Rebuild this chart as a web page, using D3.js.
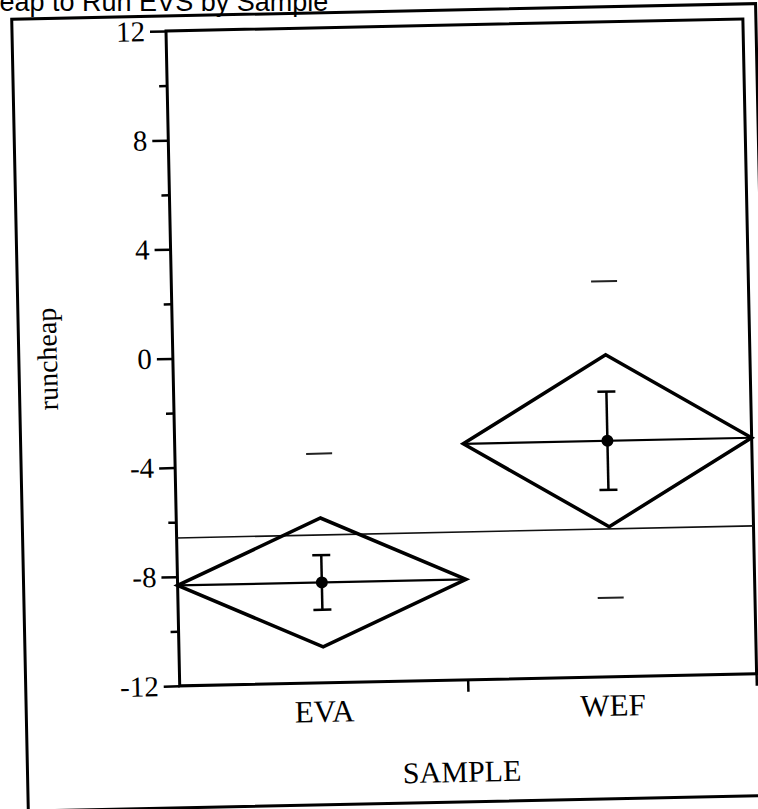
<!DOCTYPE html>
<html>
<head>
<meta charset="utf-8">
<script src="https://cdn.jsdelivr.net/npm/d3@7"></script>
<style>
body { margin: 0; background: #fff; }
svg { display: block; }
.tick text { font-family: "Liberation Serif", "Times New Roman", serif; }
</style>
</head>
<body>
<svg id="main" width="758" height="809"></svg>
<script>
// data
var categories = ["EVA", "WEF"];
var means = [-8.32, -3.35];
var ciHalf = [2.36, 3.15];
var seHalf = [1.0, 1.8];
var pointCats = ["EVA", "WEF", "WEF"];
var pointVals = [-3.6, 2.5, -9.1];
var grandMean = -6.58;
var majorTicks = [-12, -8, -4, 0, 4, 8, 12];
var minorTicks = [-10, -6, -2, 2, 6, 10];

var svg = d3.select("#main");
svg.append("rect").attr("width", 758).attr("height", 809).attr("fill", "#fff");

// title, cut off by the top of the scan
svg.append("text").attr("x", -35).attr("y", 11)
	.attr("font-family", "Liberation Sans, Arial, sans-serif").attr("font-size", 27)
	.text("Cheap to Run EVS by Sample");

// the whole scan is tilted a little
var page = svg.append("g").attr("transform", "rotate(-1.2 166 31)");
page.append("rect").attr("x", 12).attr("y", 16).attr("width", 744).attr("height", 792)
	.attr("fill", "none").attr("stroke", "#000").attr("stroke-width", 3);

var W = 577, H = 655;
var g = page.append("g").attr("transform", "translate(166,31)");
var x = d3.scaleBand().domain(categories).range([0, W]).paddingInner(0).paddingOuter(0);
var y = d3.scaleLinear().domain([-12, 12]).range([H, 0]);
var bw = x.bandwidth();

// axes
var ya = g.append("g").call(d3.axisLeft(y).tickValues(majorTicks).tickSize(16).tickPadding(5)
	.tickFormat(function(d) { return String(d); }));
ya.select(".domain").remove();
ya.selectAll(".tick line").attr("stroke-width", 2.5);
ya.selectAll(".tick text").attr("font-size", 29).attr("fill", "#000");
var ym = g.append("g").call(d3.axisLeft(y).tickValues(minorTicks).tickSize(8).tickFormat(""));
ym.select(".domain").remove();
ym.selectAll(".tick line").attr("stroke-width", 2.5);

var xa = g.append("g").attr("transform", "translate(0," + H + ")")
	.call(d3.axisBottom(x).tickSize(0).tickPadding(39));
xa.select(".domain").remove();
xa.selectAll(".tick text").attr("font-size", 31).attr("fill", "#000").attr("dy", 0);
// boundary ticks between groups
g.selectAll(".bt").data(categories).enter().append("line")
	.attr("x1", function(d) { return x(d) + bw; }).attr("x2", function(d) { return x(d) + bw; })
	.attr("y1", H).attr("y2", H + 12).attr("stroke", "#000").attr("stroke-width", 2.5);

g.append("rect").attr("width", W).attr("height", H).attr("fill", "none")
	.attr("stroke", "#000").attr("stroke-width", 3);

// axis titles
g.append("text").attr("transform", "translate(-116," + (H / 2 - 2) + ") rotate(-90)")
	.attr("text-anchor", "middle").attr("font-family", "Liberation Serif, serif").attr("font-size", 28)
	.text("runcheap");
g.append("text").attr("x", W / 2 - 8).attr("y", H + 102).attr("text-anchor", "middle")
	.attr("font-family", "Liberation Serif, serif").attr("font-size", 30).text("SAMPLE");

// grand mean line
g.append("line").attr("x1", 0).attr("x2", W).attr("y1", y(grandMean)).attr("y2", y(grandMean))
	.attr("stroke", "#111").attr("stroke-width", 1.6);

// means diamonds
categories.forEach(function(c, i) {
	var x0 = x(c), x1 = x(c) + bw, xc = x(c) + bw / 2;
	g.append("polygon")
		.attr("points", [[x0, y(means[i])], [xc, y(means[i] + ciHalf[i])], [x1, y(means[i])], [xc, y(means[i] - ciHalf[i])]].join(" "))
		.attr("fill", "none").attr("stroke", "#000").attr("stroke-width", 3.5).attr("stroke-linejoin", "miter");
	g.append("line").attr("x1", x0).attr("x2", x1).attr("y1", y(means[i])).attr("y2", y(means[i]))
		.attr("stroke", "#000").attr("stroke-width", 2.2);
	// std error bars
	g.append("line").attr("x1", xc).attr("x2", xc).attr("y1", y(means[i] + seHalf[i])).attr("y2", y(means[i] - seHalf[i]))
		.attr("stroke", "#000").attr("stroke-width", 2.5);
	[seHalf[i], -seHalf[i]].forEach(function(s) {
		g.append("line").attr("x1", xc - 9).attr("x2", xc + 9).attr("y1", y(means[i] + s)).attr("y2", y(means[i] + s))
			.attr("stroke", "#000").attr("stroke-width", 2.5);
	});
	g.append("circle").attr("cx", xc).attr("cy", y(means[i])).attr("r", 6).attr("fill", "#000");
});

// data points drawn as short dashes
g.selectAll(".pt").data(pointVals).enter().append("line")
	.attr("x1", function(d, i) { return x(pointCats[i]) + bw / 2 - 13; })
	.attr("x2", function(d, i) { return x(pointCats[i]) + bw / 2 + 13; })
	.attr("y1", function(d) { return y(d); }).attr("y2", function(d) { return y(d); })
	.attr("stroke", "#222").attr("stroke-width", 2);
</script>
</body>
</html>
